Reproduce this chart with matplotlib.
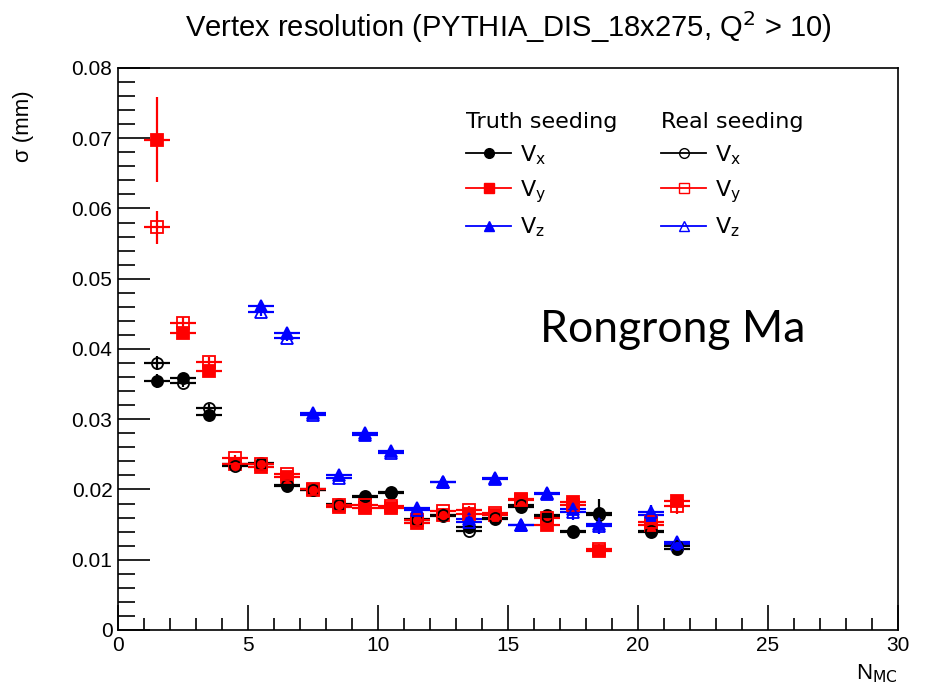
import numpy as np
import matplotlib
matplotlib.use('Agg')
import matplotlib.pyplot as plt
from matplotlib.lines import Line2D
from matplotlib.ticker import MultipleLocator

# bin centres in N_MC (bin width 1)
n_mc = [1.5, 2.5, 3.5, 4.5, 5.5, 6.5, 7.5, 8.5, 9.5, 10.5,
        11.5, 12.5, 13.5, 14.5, 15.5, 16.5, 17.5, 18.5, 20.5, 21.5]
nan = np.nan

# vertex resolution (mm), truth seeding
vx_truth = [0.0354, 0.0358, 0.0306, 0.0236, 0.0238, 0.0205, 0.0201, 0.0180, 0.0189, 0.0196,
            0.0158, 0.0162, 0.0146, 0.0158, 0.0175, 0.0164, 0.0139, 0.0166, 0.0139, 0.0115]
vy_truth = [0.0698, 0.0423, 0.0369, 0.0236, 0.0232, 0.0218, 0.0199, 0.0175, 0.0173, 0.0174,
            0.0152, 0.0163, 0.0165, 0.0163, 0.0187, 0.0150, 0.0182, 0.0112, 0.0149, 0.0183]
vz_truth = [nan, nan, nan, nan, 0.0461, 0.0423, 0.0309, 0.0221, 0.0277, 0.0255,
            0.0174, 0.0211, 0.0158, 0.0216, 0.0150, 0.0195, 0.0172, 0.0151, 0.0164, 0.0122]

# vertex resolution (mm), real seeding
vx_real = [0.0380, 0.0351, 0.0316, 0.0234, 0.0236, 0.0207, 0.0199, 0.0178, 0.0191, 0.0195,
           0.0156, 0.0163, 0.0141, 0.0160, 0.0178, 0.0162, 0.0141, 0.0163, 0.0141, 0.0120]
vy_real = [0.0573, 0.0437, 0.0382, 0.0245, 0.0236, 0.0222, 0.0201, 0.0178, 0.0178, 0.0176,
           0.0157, 0.0169, 0.0171, 0.0166, 0.0185, 0.0160, 0.0178, 0.0115, 0.0154, 0.0177]
vz_real = [nan, nan, nan, nan, 0.0452, 0.0416, 0.0306, 0.0217, 0.0281, 0.0252,
           0.0171, 0.0210, 0.0154, 0.0215, 0.0149, 0.0193, 0.0168, 0.0148, 0.0168, 0.0125]

# statistical errors
vx_truth_err = [0.0010, 0.0005, 0.0005, 0.0004, 0.0004, 0.0004, 0.0004, 0.0004, 0.0004, 0.0004,
                0.0005, 0.0005, 0.0005, 0.0005, 0.0005, 0.0006, 0.0007, 0.0020, 0.0007, 0.0008]
vx_real_err = [0.0010, 0.0005, 0.0005, 0.0004, 0.0004, 0.0004, 0.0004, 0.0004, 0.0004, 0.0004,
               0.0005, 0.0005, 0.0005, 0.0005, 0.0005, 0.0006, 0.0007, 0.0012, 0.0007, 0.0008]
vy_truth_err = [0.0060, 0.0008, 0.0007, 0.0004, 0.0004, 0.0004, 0.0004, 0.0004, 0.0004, 0.0004,
                0.0005, 0.0005, 0.0005, 0.0005, 0.0005, 0.0006, 0.0007, 0.0008, 0.0008, 0.0009]
vy_real_err = [0.0023, 0.0008, 0.0007, 0.0004, 0.0004, 0.0004, 0.0004, 0.0004, 0.0004, 0.0004,
               0.0005, 0.0005, 0.0005, 0.0005, 0.0005, 0.0006, 0.0007, 0.0008, 0.0008, 0.0012]
vz_truth_err = [nan, nan, nan, nan, 0.0005, 0.0005, 0.0004, 0.0004, 0.0005, 0.0005,
                0.0005, 0.0005, 0.0006, 0.0006, 0.0006, 0.0007, 0.0011, 0.0012, 0.0010, 0.0008]
vz_real_err = vz_truth_err

narrow = ['Liberation Sans Narrow', 'Liberation Sans', 'DejaVu Sans']

fig = plt.figure(figsize=(9.33, 6.91), dpi=100)
ax = fig.add_axes([0.1265, 0.0883, 0.836, 0.8133])

series = [
    (vx_truth, vx_truth_err, 'black', 'o', True),
    (vy_truth, vy_truth_err, 'red', 's', True),
    (vz_truth, vz_truth_err, 'blue', '^', True),
    (vx_real, vx_real_err, 'black', 'o', False),
    (vy_real, vy_real_err, 'red', 's', False),
    (vz_real, vz_real_err, 'blue', '^', False),
]
for vals, errs, col, mk, filled in series:
    ax.errorbar(n_mc, vals, xerr=0.5, yerr=errs, fmt=mk, color=col, ecolor=col,
                elinewidth=1.6, capsize=0, markersize=8,
                markerfacecolor=col if filled else 'none',
                markeredgecolor=col, markeredgewidth=1.3)

ax.set_xlim(0, 30)
ax.set_ylim(0, 0.08)
ax.xaxis.set_major_locator(MultipleLocator(5))
ax.xaxis.set_minor_locator(MultipleLocator(1))
ax.yaxis.set_major_locator(MultipleLocator(0.01))
ax.yaxis.set_minor_locator(MultipleLocator(0.002))
ax.yaxis.set_major_formatter(plt.FuncFormatter(lambda v, p: '0' if v == 0 else f'{v:.2f}'))
ax.tick_params(axis='x', which='major', direction='in', length=18, width=1.2, pad=4)
ax.tick_params(axis='x', which='minor', direction='in', length=9, width=1.2)
ax.tick_params(axis='y', which='major', direction='in', length=23, width=1.2, pad=4)
ax.tick_params(axis='y', which='minor', direction='in', length=12, width=1.2)
for lab in ax.get_xticklabels() + ax.get_yticklabels():
    lab.set_family(narrow)
    lab.set_fontsize(15)
for sp in ax.spines.values():
    sp.set_linewidth(1.2)

ax.set_title(r'Vertex resolution (PYTHIA_DIS_18x275, Q$^{2}$ > 10)',
             family=narrow, fontsize=21, pad=22)
ax.set_ylabel('\u03c3 (mm)', family=narrow, fontsize=16, loc='top')
ax.yaxis.set_label_coords(-0.108, 0.96)
ax.set_xlabel(r'N$_{\rm MC}$', family=narrow, fontsize=16, loc='right', labelpad=6)

ax.text(0.541, 0.534, 'Rongrong Ma', transform=ax.transAxes, family='Lato',
        fontsize=32, ha='left', va='center')

# two-column legend: truth seeding (filled), real seeding (open)
labels = [r'V$_{\rm x}$', r'V$_{\rm y}$', r'V$_{\rm z}$']

def make_handles(filled):
    out = []
    for col, mk in [('black', 'o'), ('red', 's'), ('blue', '^')]:
        out.append(Line2D([], [], color=col, marker=mk, lw=1.3, markersize=7,
                          markerfacecolor=col if filled else 'none',
                          markeredgecolor=col))
    return out

leg1 = ax.legend(make_handles(True), labels, title='Truth seeding', loc='upper left',
                 bbox_to_anchor=(0.421, 0.957), frameon=False, fontsize=16,
                 title_fontsize=16, alignment='left', handlelength=2.0,
                 labelspacing=0.5, handletextpad=0.4)
ax.add_artist(leg1)
ax.legend(make_handles(False), labels, title='Real seeding', loc='upper left',
          bbox_to_anchor=(0.671, 0.957), frameon=False, fontsize=16,
          title_fontsize=16, alignment='left', handlelength=2.0,
          labelspacing=0.5, handletextpad=0.4)

plt.savefig('out.png', dpi=100)
